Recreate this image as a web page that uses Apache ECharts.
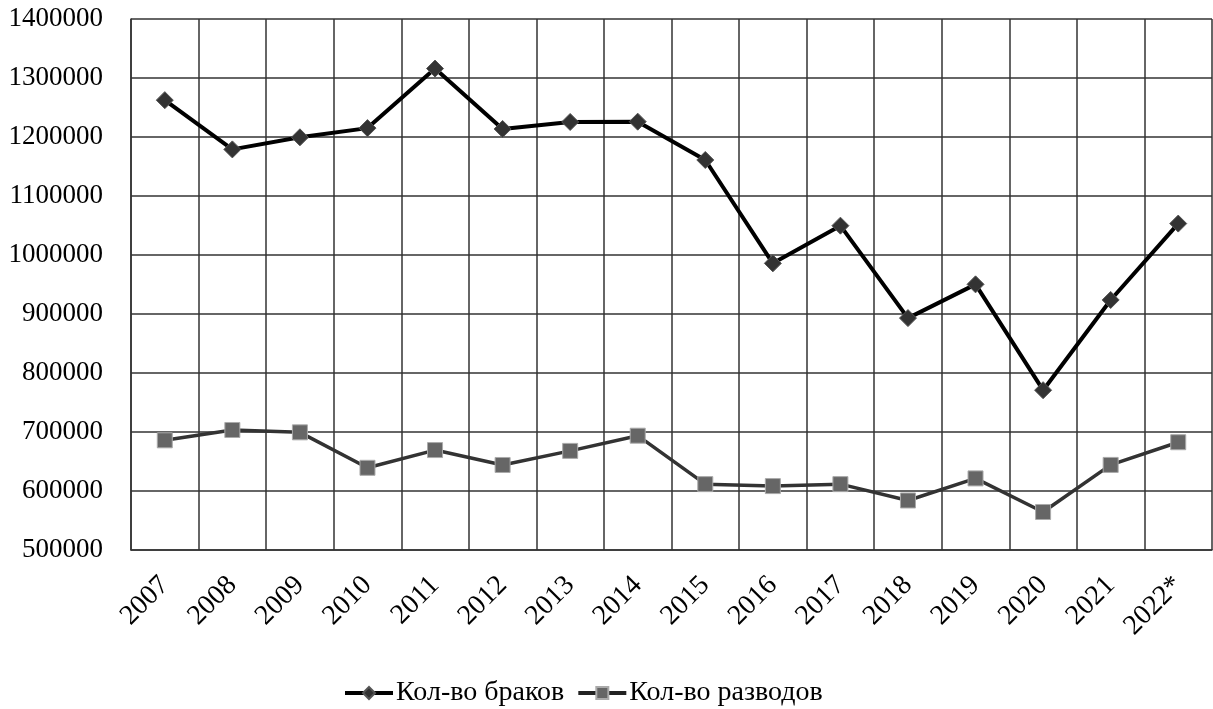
<!DOCTYPE html>
<html><head><meta charset="utf-8">
<script src="https://cdn.jsdelivr.net/npm/echarts@6/dist/echarts.min.js"></script>
<style>html,body{margin:0;padding:0;background:#fff}#c{width:1213px;height:709px}</style>
</head><body><div id="c"></div>
<script>
const categories = ['2007','2008','2009','2010','2011','2012','2013','2014','2015','2016','2017','2018','2019','2020','2021','2022*'];
const marriages = [1262500,1179007,1199446,1215066,1316011,1213598,1225501,1225985,1161068,985836,1049735,893039,950241,770857,923809,1053239];
const divorces = [685910,703412,699430,639321,669376,644101,667971,693730,611646,608336,611646,583933,621342,564430,644209,682661];
const seriesNames = ['Кол-во браков','Кол-во разводов'];
const yMin = 500000, yMax = 1400000, yStep = 100000;

const chart = echarts.init(document.getElementById('c'));
const font = 'Liberation Serif, Times New Roman, serif';
chart.setOption({
  animation: false,
  backgroundColor: '#fff',
  grid: {left: 131, top: 19, right: 1, bottom: 159},
  legend: {
    top: 674, left: 338, itemWidth: 48, itemHeight: 15, itemGap: 12,
    textStyle: {fontFamily: font, fontSize: 28, color: '#000', padding: [0, 0, 0, -2]},
    data: [
      {name: seriesNames[0], lineStyle: {width: 4, color: '#000'}},
      {name: seriesNames[1], lineStyle: {width: 4, color: '#222'}}
    ]
  },
  xAxis: {
    type: 'category', data: categories, boundaryGap: true,
    axisLine: {show: true, lineStyle: {color: '#333', width: 1.5}},
    axisTick: {show: false},
    splitLine: {show: true, lineStyle: {color: '#333', width: 1.5}},
    axisLabel: {rotate: 45, interval: 0, margin: 31, fontFamily: font, fontSize: 28, color: '#000'}
  },
  yAxis: {
    type: 'value', min: yMin, max: yMax, interval: yStep,
    axisLine: {show: true, lineStyle: {color: '#333', width: 1.5}},
    axisTick: {show: false},
    splitLine: {show: true, lineStyle: {color: '#333', width: 1.5}},
    axisLabel: {margin: 28, fontFamily: font, fontSize: 27, color: '#000', formatter: v => String(v)}
  },
  series: [
    {
      name: seriesNames[0], type: 'line', data: marriages,
      symbol: 'diamond', symbolSize: 17,
      lineStyle: {color: '#000', width: 4},
      itemStyle: {color: '#333', borderColor: '#555', borderWidth: 1}
    },
    {
      name: seriesNames[1], type: 'line', data: divorces,
      symbol: 'rect', symbolSize: 15,
      lineStyle: {color: '#333', width: 3.5},
      itemStyle: {color: '#666', borderColor: '#aaa', borderWidth: 1}
    }
  ]
});
</script></body></html>
